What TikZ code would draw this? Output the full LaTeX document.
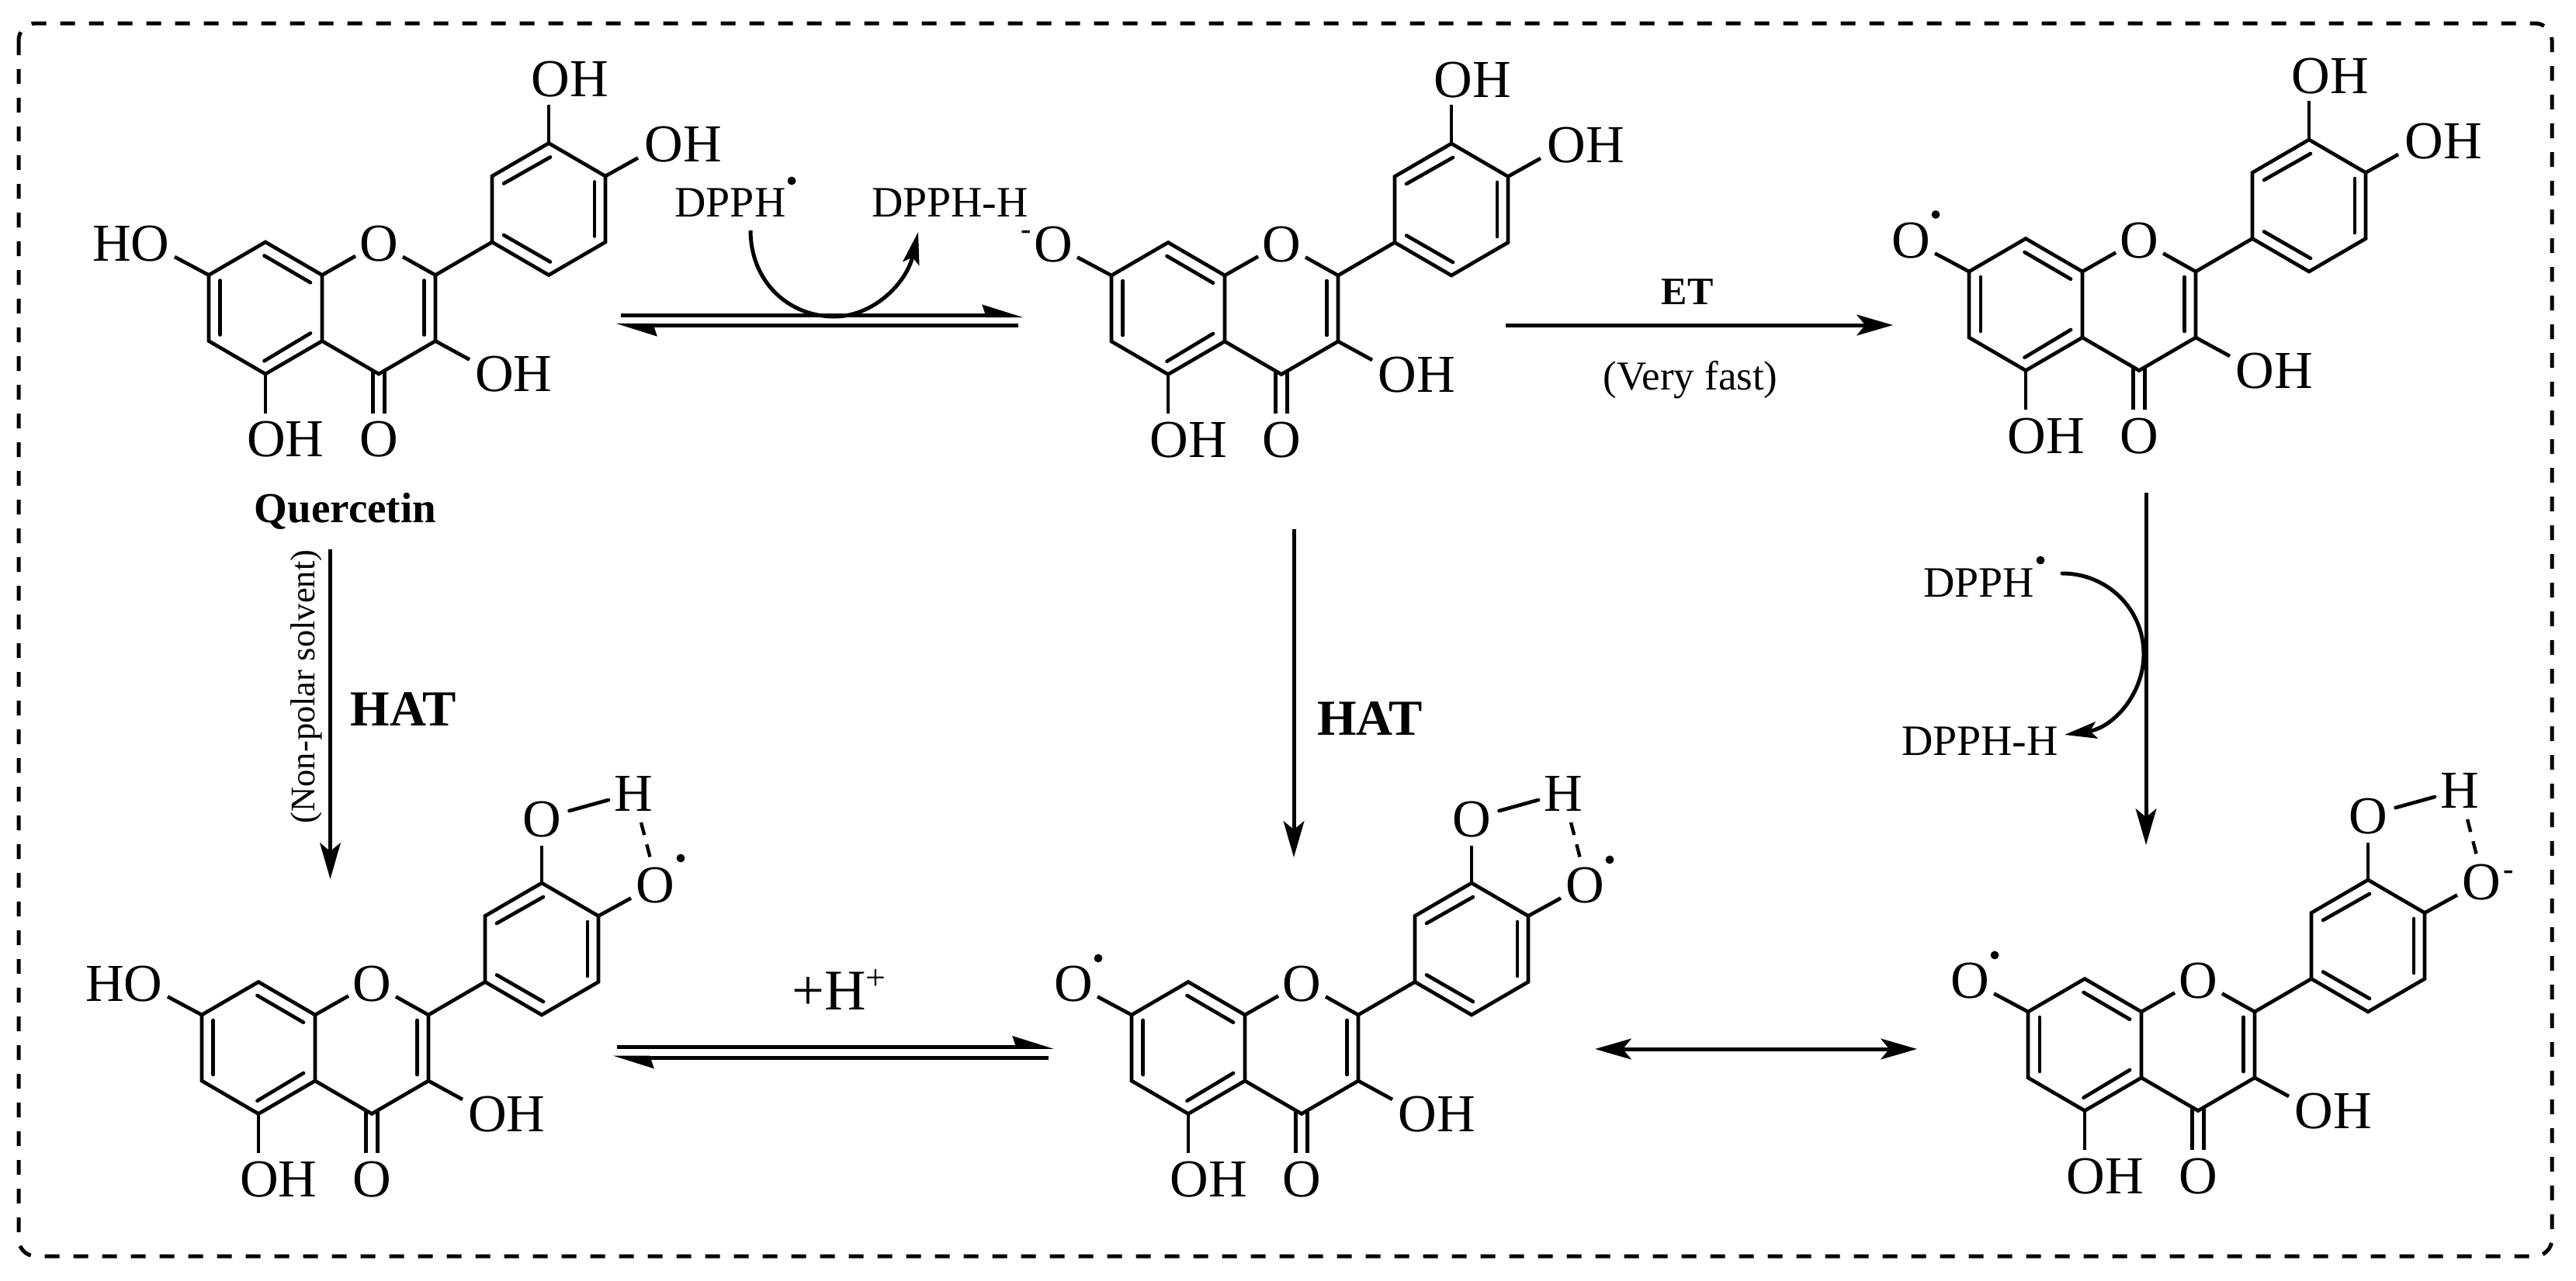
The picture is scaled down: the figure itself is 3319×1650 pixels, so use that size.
\documentclass[tikz,border=0pt]{standalone}
\usepackage{fontspec}
\setmainfont{Liberation Serif}
\usetikzlibrary{arrows.meta}
\tikzset{
  bond/.style={line width=1.12pt,line join=miter,line cap=butt},
  inner/.style={line width=1.12pt,line cap=round},
  atom/.style={font=\fontsize{16.5}{18}\selectfont,inner sep=0pt,anchor=base},
  chg/.style={font=\bfseries\fontsize{9.6}{10}\selectfont,inner sep=0pt,anchor=base},
  radical/.style={circle,fill=black,inner sep=0pt,minimum size=2.6pt},
  reagent/.style={font=\fontsize{13.4}{15}\selectfont,inner sep=0pt,anchor=base},
  boldlab/.style={font=\bfseries\fontsize{15.6}{17}\selectfont,inner sep=0pt,anchor=base},
  rxn/.style={line width=1.2pt,-{Stealth[length=11.2pt,width=6.4pt,inset=2.6pt]}},
  curly/.style={line width=1.2pt,-{Stealth[length=10pt,width=5.2pt,inset=2pt]}},
  eqm/.style={line width=1.2pt,-{Stealth[harpoon,length=10.8pt,width=6.6pt,inset=1pt]}},
  frame/.style={line width=1.2pt,rounded corners=5.3pt,dash pattern=on 4.56pt off 4.32pt},
}
% the flavone skeleton with its common substituents
\newcommand{\qcore}[3]{%
\begin{scope}[shift={(#2,#3)}]
  \coordinate (#1c7) at (0,0);
  \coordinate (#1c8) at (73,-42.5);
  \coordinate (#1c8a) at (146,0);
  \coordinate (#1c4a) at (146,85);
  \coordinate (#1c5) at (73,127.5);
  \coordinate (#1c6) at (0,85);
  \coordinate (#1c2) at (292,0);
  \coordinate (#1c3) at (292,85);
  \coordinate (#1c4) at (219,127.5);
  \coordinate (#1ca) at (365,-42.5);
  \coordinate (#1cb) at (365,-127.5);
  \coordinate (#1cc) at (438,-170);
  \coordinate (#1cd) at (511,-127.5);
  \coordinate (#1ce) at (511,-42.5);
  \coordinate (#1cf) at (438,0);
  \coordinate (#1eOa) at (189,-24.5);
  \coordinate (#1eOb) at (250,-23.5);
  \coordinate (#1e5) at (73,178);
  \coordinate (#1e3) at (336,109);
  \coordinate (#1e4l) at (211.4,178);
  \coordinate (#1e4r) at (226.6,178);
  \coordinate (#1s4l) at (211.4,124);
  \coordinate (#1s4r) at (226.6,124);
  \node[atom] (#1O) at (219,-18) {O};
  \node[atom] (#1OH5) at (99,234) {OH};
  \node[atom] (#1O4) at (219,234) {O};
  \node[atom] (#1OH3) at (393,150) {OH};
  \draw[bond] (#1c7) -- (#1c8) -- (#1c8a) -- (#1c4a) -- (#1c5) -- (#1c6) -- cycle;
  \draw[bond] (#1c4a) -- (#1c4) -- (#1c3) -- (#1c2) -- (#1eOb);
  \draw[bond] (#1c8a) -- (#1eOa);
  \draw[bond] (#1c2) -- (#1ca);
  \draw[bond] (#1ca) -- (#1cb) -- (#1cc) -- (#1cd) -- (#1ce) -- (#1cf) -- cycle;
  \draw[bond] (#1c5) -- (#1e5);
  \draw[bond] (#1c3) -- (#1e3);
  \draw[bond] (#1s4l) -- (#1e4l);
  \draw[bond] (#1s4r) -- (#1e4r);
  \draw[inner] (14.8,7) -- (14.8,77);
  \draw[inner] (71.5,-25) -- (131,9.7);
  \draw[inner] (71.5,110.7) -- (131,75);
  \draw[inner] (277.5,7) -- (277.5,77);
  \draw[inner] (380,-118) -- (440,-152);
  \draw[inner] (497,-120) -- (497,-50);
  \draw[inner] (380,-51.5) -- (440,-17);
\end{scope}}
% C7 substituent: the text of the label and its centre
\newcommand{\qseven}[5]{%
\begin{scope}[shift={(#2,#3)}]
  \coordinate (#1e7) at (-44,-23.5);
  \node[atom] (#1L7) at (#4,-18) {#5};
  \draw[bond] (#1c7) -- (#1e7);
\end{scope}}
% free catechol
\newcommand{\qcatechol}[3]{%
\begin{scope}[shift={(#2,#3)}]
  \coordinate (#1eA) at (438,-220);
  \coordinate (#1eB) at (553,-151);
  \node[atom] (#1OHa) at (465,-230) {OH};
  \node[atom] (#1OHb) at (611,-146) {OH};
  \draw[bond] (#1cc) -- (#1eA);
  \draw[bond] (#1cd) -- (#1eB);
\end{scope}}
% hydrogen-bonded catechol
\newcommand{\qhbond}[3]{%
\begin{scope}[shift={(#2,#3)}]
  \coordinate (#1eA) at (438,-218);
  \coordinate (#1eB) at (553,-150.5);
  \coordinate (#1h1) at (473.5,-263);
  \coordinate (#1h2) at (524,-277);
  \coordinate (#1d1) at (566,-248);
  \coordinate (#1d2) at (578,-201.5);
  \node[atom] (#1Oa) at (438,-230) {O};
  \node[atom] (#1H) at (556,-263) {H};
  \node[atom] (#1Ob) at (584,-145) {O};
  \draw[bond] (#1cc) -- (#1eA);
  \draw[bond] (#1cd) -- (#1eB);
  \draw[inner] (#1h1) -- (#1h2);
  \draw[bond,line width=1.05pt,dash pattern=on 4pt off 3pt] (#1d1) -- (#1d2);
\end{scope}}
\begin{document}
\begin{tikzpicture}[x=0.24pt,y=-0.24pt]
\useasboundingbox (0,0) rectangle (3319,1650);
\draw[frame] (24,30) rectangle (3288,1619);

% top row
\qcore{a}{269}{354.5}
\qseven{a}{269}{354.5}{-100}{HO}
\qcatechol{a}{269}{354.5}
\qcore{b}{1432}{355}
\qseven{b}{1432}{355}{-74.5}{O}
\qcatechol{b}{1432}{355}
\node[chg] (bminus) at (1322.5,308.4) {-};
\qcore{c}{2537}{350}
\qseven{c}{2537}{350}{-74.5}{O}
\qcatechol{c}{2537}{350}
\node[radical] (cdot) at (2494,276.5) {};

% bottom row
\qcore{d}{260}{1308}
\qseven{d}{260}{1308}{-100}{HO}
\qhbond{d}{260}{1308}
\node[radical] (ddot) at (877,1106) {};
\qcore{e}{1458}{1308}
\qseven{e}{1458}{1308}{-74.5}{O}
\qhbond{e}{1458}{1308}
\node[radical] (edot1) at (1415,1235) {};
\node[radical] (edot2) at (2074,1108) {};
\qcore{f}{2613}{1304}
\qseven{f}{2613}{1304}{-74.5}{O}
\qhbond{f}{2613}{1304}
\node[radical] (fdot1) at (2570,1231) {};
\node[chg] (fminus) at (3232,1133) {-};

% labels
\node[inner sep=0pt,anchor=base,font=\bfseries\fontsize{13.2}{15}\selectfont] (querc) at (445,673) {Quercetin};
\node[inner sep=0pt,anchor=base,rotate=90,font=\fontsize{10.7}{12}\selectfont] (nonpolar) at (405,885) {(Non-polar solvent)};
\node[boldlab] (hat1) at (519.5,935) {HAT};
\node[boldlab] (hat2) at (1765,947) {HAT};
\node[inner sep=0pt,anchor=base,font=\bfseries\fontsize{12}{14}\selectfont] (et) at (2174,392) {ET};
\node[inner sep=0pt,anchor=base,font=\fontsize{12.7}{14}\selectfont] (vfast) at (2178,502) {(Very fast)};
\node[inner sep=0pt,anchor=base,font=\fontsize{17.8}{19}\selectfont] (hplus) at (1081,1301.6) {+H\raisebox{6.3pt}{\fontsize{11}{12}\selectfont +}};
\node[reagent] (dpph1) at (941,279) {DPPH};
\node[radical] (dpphdot1) at (1020,233) {};
\node[reagent] (dpphh1) at (1224,279) {DPPH-H};
\node[reagent] (dpph2) at (2549.5,769) {DPPH};
\node[radical] (dpphdot2) at (2629,722) {};
\node[reagent] (dpphh2) at (2551,973) {DPPH-H};

% free ends of the arrows
\coordinate (e1a) at (800,406.7);   \coordinate (e1b) at (1319,406.7);
\coordinate (e1c) at (1312,419.3);  \coordinate (e1d) at (793,419.3);
\coordinate (c1a) at (967,297);   \coordinate (c1m) at (1075,408);  \coordinate (c1b) at (1183,299);
\coordinate (et1) at (1940,419);  \coordinate (et2) at (2439,419);
\coordinate (v1a) at (425.5,708); \coordinate (v1b) at (425.5,1133);
\coordinate (v2a) at (1667,682);  \coordinate (v2b) at (1667,1105);
\coordinate (v3a) at (2765,635);  \coordinate (v3b) at (2765,1089);
\coordinate (c2a) at (2657,739);  \coordinate (c2m) at (2762,843);  \coordinate (c2b) at (2660,947);
\coordinate (e2a) at (795,1349.3); \coordinate (e2b) at (1358,1349.3);
\coordinate (e2c) at (1351,1363);  \coordinate (e2d) at (789,1363);
\coordinate (r1) at (2055,1352);  \coordinate (r2) at (2470,1352);

\draw[eqm] (e1a) -- (e1b);
\draw[eqm] (e1c) -- (e1d);
\draw[curly] (c1a) .. controls (967,362) and (1015,408) .. (c1m) .. controls (1125,408) and (1168,365) .. (c1b);
\draw[rxn] (et1) -- (et2);
\draw[rxn] (v1a) -- (v1b);
\draw[rxn] (v2a) -- (v2b);
\draw[rxn] (v3a) -- (v3b);
\draw[curly,line cap=round] (c2a) .. controls (2715,739) and (2762,785) .. (c2m) .. controls (2762,895) and (2722,938) .. (c2b);
\draw[eqm] (e2a) -- (e2b);
\draw[eqm] (e2c) -- (e2d);
\draw[rxn,{Stealth[length=11.2pt,width=6.4pt,inset=2.6pt]}-{Stealth[length=11.2pt,width=6.4pt,inset=2.6pt]}] (r1) -- (r2);
\end{tikzpicture}
\end{document}
